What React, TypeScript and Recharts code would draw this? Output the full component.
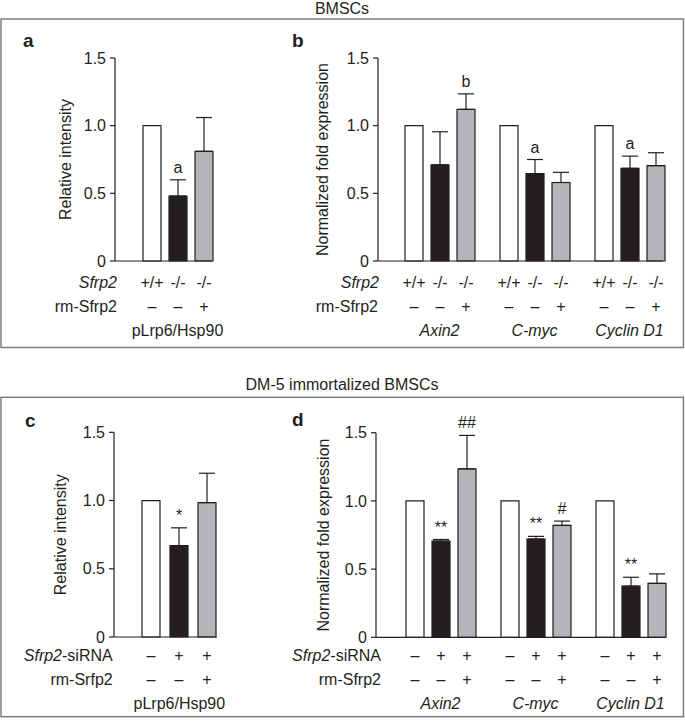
import React from 'react';
import { BarChart, Bar, XAxis, YAxis, ErrorBar, LabelList } from 'recharts';

const FONT = '"Liberation Sans", Arial, Helvetica, sans-serif';
const INK = '#231f20';
const GREY = '#b3b5b8';
const BOX = '#7d7d7d';

// ---- BMSCs (panels a, b) ----
const aCategories = ['pLrp6/Hsp90'];
const aWt = [1.0];
const aKo = [0.48];
const aKoErr = [0.12];
const aRm = [0.81];
const aRmErr = [0.25];
const aKoMarks = ['a'];
const aRmMarks = [''];

const bGenes = ['Axin2', 'C-myc', 'Cyclin D1'];
const bWt = [1.0, 1.0, 1.0];
const bKo = [0.71, 0.645, 0.685];
const bKoErr = [0.245, 0.105, 0.09];
const bRm = [1.12, 0.58, 0.705];
const bRmErr = [0.115, 0.075, 0.095];
const bKoMarks = ['', 'a', 'a'];
const bRmMarks = ['b', '', ''];

const bmscGenotype = ['+/+', '-/-', '-/-'];
const bmscRmSfrp2 = ['–', '–', '+'];

// ---- DM-5 immortalized BMSCs (panels c, d) ----
const cCategories = ['pLrp6/Hsp90'];
const cWt = [1.0];
const cSi = [0.67];
const cSiErr = [0.13];
const cRm = [0.985];
const cRmErr = [0.215];
const cSiMarks = ['*'];
const cRmMarks = [''];

const dGenes = ['Axin2', 'C-myc', 'Cyclin D1'];
const dWt = [1.0, 1.0, 1.0];
const dSi = [0.705, 0.72, 0.375];
const dSiErr = [0.012, 0.02, 0.065];
const dRm = [1.235, 0.82, 0.395];
const dRmErr = [0.245, 0.032, 0.07];
const dSiMarks = ['**', '**', '**'];
const dRmMarks = ['##', '#', ''];

const dmSiRNA = ['–', '+', '+'];
const dmRmSfrp2 = ['–', '–', '+'];

const yTicks = [0, 0.5, 1.0, 1.5];

const buildRows = (
  names: string[], wt: number[], ko: number[], koErr: number[], rm: number[], rmErr: number[]
) =>
  names.map((name, i) => ({
    name,
    wt: wt[i],
    ko: ko[i],
    rm: rm[i],
    koErr: [0, koErr[i]],
    rmErr: [0, rmErr[i]],
  }));

const txt = { fontFamily: FONT, fontSize: 16, fill: INK };

interface PanelProps {
  rows: any[];
  plot: { left: number; right: number; top: number; bottom: number };
  pad: { left: number; right: number };
  barGap: number;
  row1: string[];
  row2: string[];
  marks: { ko: string[]; rm: string[] };
  rowOffsets: number[];
  italicCategory: boolean;
}

const W = 685;
const H = 721;
const Y_AXIS_W = 60;
const X_AXIS_H = 30;

const Panel: React.FC<PanelProps> = ({ rows, plot, pad, barGap, row1, row2, marks, rowOffsets, italicCategory }) => {
  const seriesKeys = ['wt', 'ko', 'rm'];

  const barText = (s: number) => (props: any) => {
    const vb = props.viewBox ?? props;
    const x = vb.x ?? props.x;
    const y = vb.y ?? props.y;
    const width = vb.width ?? props.width;
    const height = vb.height ?? props.height;
    const index = props.index ?? 0;
    const row = rows[index];
    const value = row[seriesKeys[s]];
    const err = s === 1 ? row.koErr[1] : s === 2 ? row.rmErr[1] : 0;
    const errTop = y - (value ? (err * height) / value : 0);
    const mark = s === 1 ? marks.ko[index] : s === 2 ? marks.rm[index] : '';
    const cx = x + width / 2;
    const base = y + height;
    return (
      <g>
        {mark ? (
          <text x={cx} y={errTop - 7} textAnchor="middle" {...txt}>
            {mark}
          </text>
        ) : null}
        <text x={cx} y={base + rowOffsets[0]} textAnchor="middle" dominantBaseline="central" {...txt}>
          {row1[s]}
        </text>
        <text x={cx} y={base + rowOffsets[1]} textAnchor="middle" dominantBaseline="central" {...txt}>
          {row2[s]}
        </text>
      </g>
    );
  };

  const categoryTick = (props: any) => (
    <text
      x={props.x}
      y={plot.bottom + rowOffsets[2]}
      textAnchor="middle"
      dominantBaseline="central"
      fontStyle={italicCategory ? 'italic' : 'normal'}
      {...txt}
    >
      {props.payload.value}
    </text>
  );

  return (
    <div style={{ position: 'absolute', left: 0, top: 0 }}>
      <BarChart
        width={W}
        height={H}
        data={rows}
        barGap={barGap}
        margin={{
          top: plot.top,
          bottom: H - plot.bottom - X_AXIS_H,
          left: plot.left - Y_AXIS_W,
          right: W - plot.right,
        }}
      >
        <XAxis
          dataKey="name"
          height={X_AXIS_H}
          padding={pad}
          tickLine={false}
          axisLine={{ stroke: INK, strokeWidth: 1.2 }}
          tick={categoryTick}
          interval={0}
        />
        <YAxis
          width={Y_AXIS_W}
          domain={[0, 1.5]}
          ticks={yTicks}
          interval={0}
          tickSize={5}
          tickMargin={4}
          tickFormatter={(v: number) => (v === 0 ? '0' : v.toFixed(1))}
          tick={{ fontFamily: FONT, fontSize: 16, fill: INK }}
          tickLine={{ stroke: INK, strokeWidth: 1.2 }}
          axisLine={{ stroke: INK, strokeWidth: 1.2 }}
        />
        <Bar dataKey="wt" fill="#ffffff" stroke={INK} strokeWidth={1.2} barSize={18} isAnimationActive={false}>
          <LabelList content={barText(0)} />
        </Bar>
        <Bar dataKey="ko" fill={INK} stroke={INK} strokeWidth={1.2} barSize={18} isAnimationActive={false}>
          <ErrorBar dataKey="koErr" width={8} stroke={INK} strokeWidth={1.2} direction="y" />
          <LabelList content={barText(1)} />
        </Bar>
        <Bar dataKey="rm" fill={GREY} stroke={INK} strokeWidth={1.2} barSize={18} isAnimationActive={false}>
          <ErrorBar dataKey="rmErr" width={8} stroke={INK} strokeWidth={1.2} direction="y" />
          <LabelList content={barText(2)} />
        </Bar>
      </BarChart>
    </div>
  );
};

const YLabel: React.FC<{ x: number; y: number; text: string }> = ({ x, y, text }) => (
  <text x={x} y={y} transform={`rotate(-90 ${x} ${y})`} textAnchor="middle" dominantBaseline="central" {...txt}>
    {text}
  </text>
);

const RowTitle: React.FC<{ x: number; y: number; italic?: string; rest?: string }> = ({ x, y, italic, rest }) => (
  <text x={x} y={y} textAnchor="end" dominantBaseline="central" {...txt}>
    {italic ? <tspan fontStyle="italic">{italic}</tspan> : null}
    {rest ? <tspan>{rest}</tspan> : null}
  </text>
);

const App: React.FC = () => {
  const rowsA = buildRows(aCategories, aWt, aKo, aKoErr, aRm, aRmErr);
  const rowsB = buildRows(bGenes, bWt, bKo, bKoErr, bRm, bRmErr);
  const rowsC = buildRows(cCategories, cWt, cSi, cSiErr, cRm, cRmErr);
  const rowsD = buildRows(dGenes, dWt, dSi, dSiErr, dRm, dRmErr);

  const topRows = [21, 45, 69];
  const botRows = [18, 42, 66];

  return (
    <div style={{ position: 'absolute', left: 0, top: 0, width: W, height: H, background: '#fff' }}>
      <svg width={W} height={H} style={{ position: 'absolute', left: 0, top: 0 }}>
        <rect x={1} y={19} width={682.5} height={328.5} fill="none" stroke={BOX} strokeWidth={1.5} />
        <rect x={1} y={397.3} width={682.5} height={319.4} fill="none" stroke={BOX} strokeWidth={1.5} />
        <text x={342} y={14} textAnchor="middle" {...txt}>BMSCs</text>
        <text x={342} y={390} textAnchor="middle" {...txt}>DM-5 immortalized BMSCs</text>

        <text x={23} y={47} {...txt} fontSize={19} fontWeight="bold">a</text>
        <text x={292} y={47} {...txt} fontSize={19} fontWeight="bold">b</text>
        <text x={25} y={427} {...txt} fontSize={19} fontWeight="bold">c</text>
        <text x={292} y={426} {...txt} fontSize={19} fontWeight="bold">d</text>

        <YLabel x={65} y={159.5} text="Relative intensity" />
        <YLabel x={322} y={159.5} text="Normalized fold expression" />
        <YLabel x={61} y={534.7} text="Relative intensity" />
        <YLabel x={323.5} y={535} text="Normalized fold expression" />

        <RowTitle x={117} y={282} italic="Sfrp2" />
        <RowTitle x={117} y={306} rest="rm-Sfrp2" />
        <RowTitle x={379} y={282} italic="Sfrp2" />
        <RowTitle x={378} y={306} rest="rm-Sfrp2" />

        <RowTitle x={112.7} y={655} italic="Sfrp2" rest="-siRNA" />
        <RowTitle x={112.7} y={679} rest="rm-Srfp2" />
        <RowTitle x={381} y={655} italic="Sfrp2" rest="-siRNA" />
        <RowTitle x={381} y={679} rest="rm-Sfrp2" />
      </svg>

      <Panel
        rows={rowsA}
        plot={{ left: 115, right: 212, top: 58, bottom: 261 }}
        pad={{ left: 14, right: -14 }}
        barGap={8}
        row1={bmscGenotype}
        row2={bmscRmSfrp2}
        marks={{ ko: aKoMarks, rm: aRmMarks }}
        rowOffsets={topRows}
        italicCategory={false}
      />
      <Panel
        rows={rowsB}
        plot={{ left: 378, right: 663, top: 58, bottom: 261 }}
        pad={{ left: 14, right: -14 }}
        barGap={8}
        row1={bmscGenotype}
        row2={bmscRmSfrp2}
        marks={{ ko: bKoMarks, rm: bRmMarks }}
        rowOffsets={topRows}
        italicCategory={true}
      />
      <Panel
        rows={rowsC}
        plot={{ left: 114, right: 216.7, top: 432.3, bottom: 637 }}
        pad={{ left: 14, right: -14 }}
        barGap={10}
        row1={dmSiRNA}
        row2={dmRmSfrp2}
        marks={{ ko: cSiMarks, rm: cRmMarks }}
        rowOffsets={botRows}
        italicCategory={false}
      />
      <Panel
        rows={rowsD}
        plot={{ left: 376, right: 666, top: 432.7, bottom: 637.3 }}
        pad={{ left: 17, right: -12 }}
        barGap={8}
        row1={dmSiRNA}
        row2={dmRmSfrp2}
        marks={{ ko: dSiMarks, rm: dRmMarks }}
        rowOffsets={botRows}
        italicCategory={true}
      />
    </div>
  );
};

export default App;
